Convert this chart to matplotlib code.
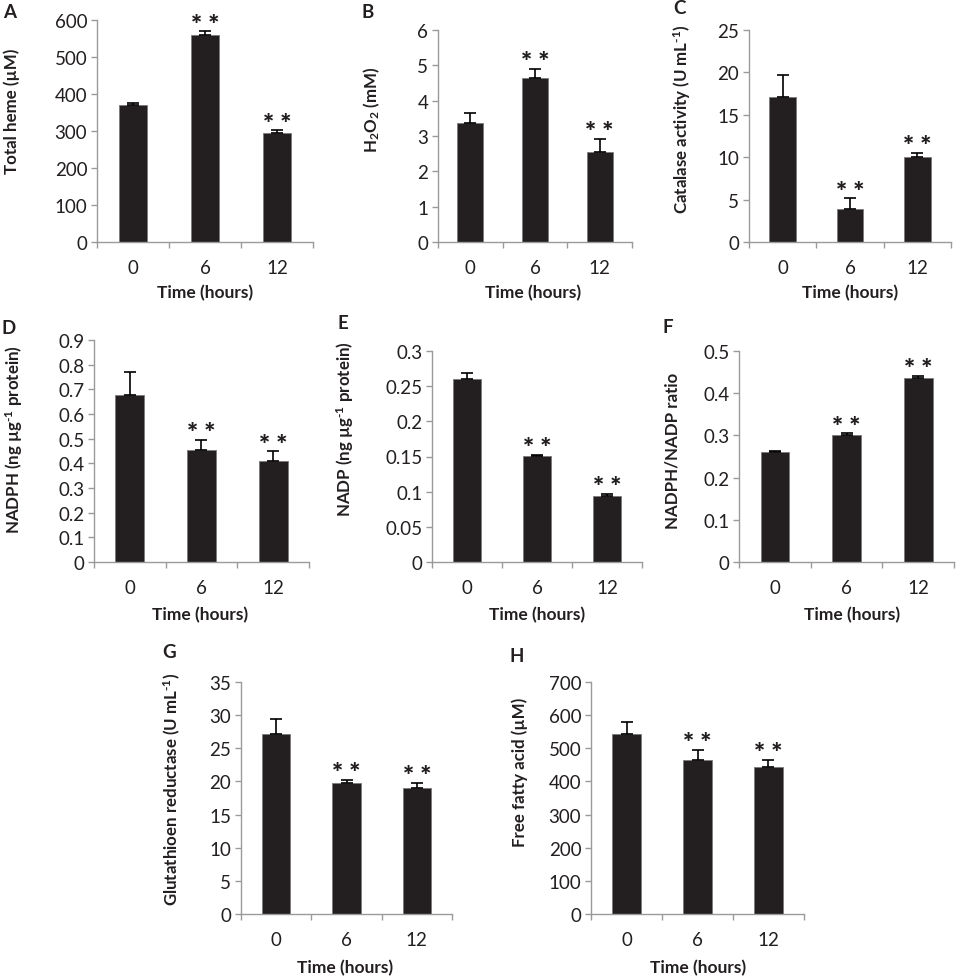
import numpy as np
import matplotlib
matplotlib.use('Agg')
import matplotlib.pyplot as plt

plt.rcParams['font.family'] = ['Lato', 'DejaVu Sans']
plt.rcParams['mathtext.fontset'] = 'custom'
plt.rcParams['mathtext.rm'] = 'Lato:bold'
plt.rcParams['mathtext.bf'] = 'Lato:bold'
plt.rcParams['mathtext.it'] = 'Lato:italic'

hours = ['0', '6', '12']
signif = [False, True, True]

heme = [370, 559, 294]
heme_err = [5, 10, 8]
h2o2 = [3.38, 4.63, 2.56]
h2o2_err = [0.28, 0.28, 0.36]
catalase = [17.05, 3.86, 10.0]
catalase_err = [2.67, 1.3, 0.55]
nadph = [0.675, 0.455, 0.41]
nadph_err = [0.095, 0.04, 0.038]
nadp = [0.2605, 0.151, 0.094]
nadp_err = [0.0085, 0.0015, 0.003]
ratio = [0.26, 0.302, 0.435]
ratio_err = [0.002, 0.003, 0.006]
glut_red = [27.2, 19.7, 19.0]
glut_red_err = [2.15, 0.5, 0.75]
ffa = [543, 465, 444]
ffa_err = [37, 30, 21]

W, H = 960, 979
fig = plt.figure(figsize=(W / 100, H / 100), dpi=100)

def px(x, y):
    return x / W, 1 - y / H

sup = r'$^{\text{-}1}$'

# letter, values, errors, ymax, ystep, ylabel, axes box (px), ylabel pos, xlabel pos, letter pos
panels = [
    ('A', heme, heme_err, 600, 100, 'Total heme (µM)',
     (97, 21, 313, 243), (12, 111), (205, 293), (10, 12)),
    ('B', h2o2, h2o2_err, 6, 1, r'H$_\mathbf{2}$O$_\mathbf{2}$ (mM)',
     (438, 31, 632, 243), (372, 110), (533, 293), (368, 12)),
    ('C', catalase, catalase_err, 25, 5, 'Catalase activity (U mL' + sup + ')',
     (749, 31, 951, 243), (682, 119), (850, 293), (679, 9)),
    ('D', nadph, nadph_err, 0.9, 0.1, 'NADPH (ng µg' + sup + ' protein)',
     (94, 341, 309, 563), (14, 440), (200, 615), (9, 329)),
    ('E', nadp, nadp_err, 0.3, 0.05, 'NADP (ng µg' + sup + ' protein)',
     (432, 352, 642, 563), (345, 429), (537, 615), (343, 324)),
    ('F', ratio, ratio_err, 0.5, 0.1, 'NADPH/NADP ratio',
     (739, 352, 954, 563), (672, 451), (852, 615), (668, 328)),
    ('G', glut_red, glut_red_err, 35, 5, 'Glutathioen reductase (U mL' + sup + ')',
     (241, 683, 452, 915), (172, 789), (345, 968), (169, 652)),
    ('H', ffa, ffa_err, 700, 100, 'Free fatty acid (µM)',
     (591, 683, 804, 915), (520, 772), (698, 968), (517, 657)),
]

axis_col = '#9a9a9a'
text_col = '#231f20'

for letter, vals, errs, ymax, ystep, ylab, box, ylpos, xlpos, lpos in panels:
    x0, y0, x1, y1 = box
    ax = fig.add_axes([x0 / W, 1 - y1 / H, (x1 - x0) / W, (y1 - y0) / H])
    xs = np.arange(len(hours))
    ax.bar(xs, vals, width=0.4, color='#231f20', edgecolor='#7a7a7a', linewidth=0.6, zorder=2)
    ax.errorbar(xs, vals, yerr=[np.zeros(len(vals)), errs], fmt='none',
                ecolor='black', elinewidth=1.2, capsize=4, capthick=1.2, zorder=3)
    for x, v, e, s in zip(xs, vals, errs, signif):
        if s:
            ax.annotate('* *', (x, v + e), xytext=(0, -1), textcoords='offset points',
                        ha='center', va='baseline', fontsize=19, fontweight='heavy',
                        color=text_col)
    ax.set_xlim(-0.5, len(hours) - 0.5)
    ax.set_ylim(0, ymax)
    yt = np.round(np.arange(0, ymax + ystep / 2, ystep), 4)
    ax.set_yticks(yt)
    ax.set_yticklabels([f'{v:g}' for v in yt])
    ax.set_xticks(xs)
    ax.set_xticklabels(hours)
    ax.set_xticks(np.arange(-0.5, len(hours)), minor=True)
    ax.tick_params(axis='x', which='major', length=0, pad=12, labelsize=13.5, labelcolor=text_col)
    ax.tick_params(axis='x', which='minor', length=4, width=1, color=axis_col, direction='out')
    ax.tick_params(axis='y', length=4, width=1, color=axis_col, direction='out',
                   pad=3, labelsize=13.5, labelcolor=text_col)
    for side in ['top', 'right']:
        ax.spines[side].set_visible(False)
    for side in ['left', 'bottom']:
        ax.spines[side].set_color(axis_col)
        ax.spines[side].set_linewidth(1)
    fig.text(*px(*ylpos), ylab, rotation=90, ha='center', va='center',
             fontsize=12.2, fontweight='bold', color=text_col)
    fig.text(*px(*xlpos), 'Time (hours)', ha='center', va='center',
             fontsize=12.5, fontweight='bold', color=text_col)
    fig.text(*px(*lpos), letter, ha='center', va='center',
             fontsize=13.5, fontweight='bold', color=text_col)

fig.savefig('out.png', dpi=100, facecolor='white')
